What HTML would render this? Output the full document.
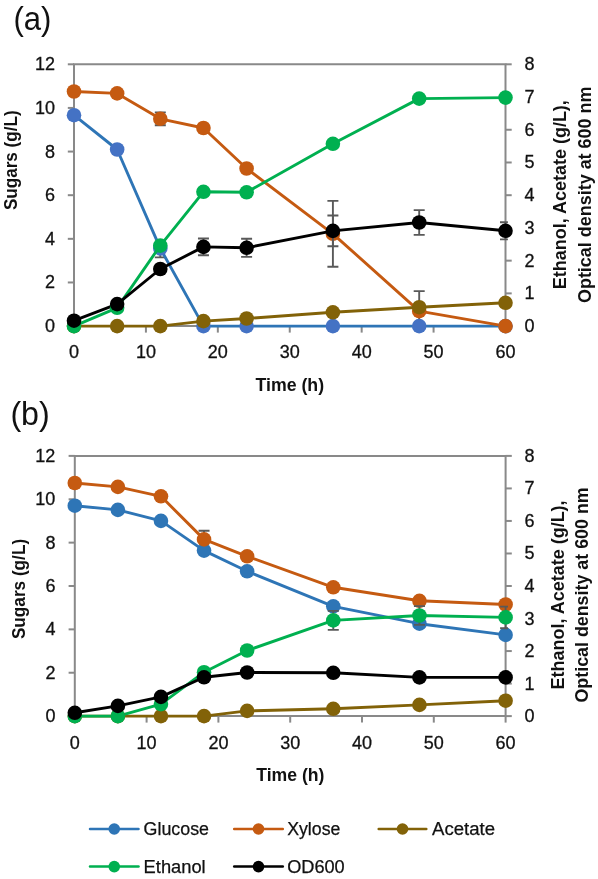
<!DOCTYPE html>
<html><head><meta charset="utf-8"><style>
html,body{margin:0;padding:0;background:#fff;width:598px;height:879px;overflow:hidden;font-family:"Liberation Sans",sans-serif;}
svg{display:block;will-change:transform;}
</style></head><body>
<svg width="598" height="879" viewBox="0 0 598 879">
<rect width="598" height="879" fill="#fff"/>
<g stroke="#898989" stroke-width="2" fill="none">
<path d="M74 326.1V64.3H505.5V326.1H74"/>
<path d="M67.8 326.1H74"/>
<path d="M67.8 282.47H74"/>
<path d="M67.8 238.83H74"/>
<path d="M67.8 195.2H74"/>
<path d="M67.8 151.57H74"/>
<path d="M67.8 107.93H74"/>
<path d="M67.8 64.3H74"/>
<path d="M505.5 326.1H511.7"/>
<path d="M505.5 293.38H511.7"/>
<path d="M505.5 260.65H511.7"/>
<path d="M505.5 227.93H511.7"/>
<path d="M505.5 195.2H511.7"/>
<path d="M505.5 162.48H511.7"/>
<path d="M505.5 129.75H511.7"/>
<path d="M505.5 97.03H511.7"/>
<path d="M505.5 64.3H511.7"/>
<path d="M74 326.1V332.6"/>
<path d="M145.92 326.1V332.6"/>
<path d="M217.83 326.1V332.6"/>
<path d="M289.75 326.1V332.6"/>
<path d="M361.67 326.1V332.6"/>
<path d="M433.58 326.1V332.6"/>
<path d="M505.5 326.1V332.6"/>
</g>
<g font-family='"Liberation Sans", sans-serif' font-size="18" fill="#111111" stroke="#111111" stroke-width="0.3">
<text x="55.1" y="332.1" text-anchor="end">0</text>
<text x="55.1" y="288.47" text-anchor="end">2</text>
<text x="55.1" y="244.83" text-anchor="end">4</text>
<text x="55.1" y="201.2" text-anchor="end">6</text>
<text x="55.1" y="157.57" text-anchor="end">8</text>
<text x="55.1" y="113.93" text-anchor="end">10</text>
<text x="55.1" y="70.3" text-anchor="end">12</text>
<text x="524.6" y="332.1">0</text>
<text x="524.6" y="299.38">1</text>
<text x="524.6" y="266.65">2</text>
<text x="524.6" y="233.93">3</text>
<text x="524.6" y="201.2">4</text>
<text x="524.6" y="168.48">5</text>
<text x="524.6" y="135.75">6</text>
<text x="524.6" y="103.03">7</text>
<text x="524.6" y="70.3">8</text>
<text x="74" y="358.2" text-anchor="middle">0</text>
<text x="145.92" y="358.2" text-anchor="middle">10</text>
<text x="217.83" y="358.2" text-anchor="middle">20</text>
<text x="289.75" y="358.2" text-anchor="middle">30</text>
<text x="361.67" y="358.2" text-anchor="middle">40</text>
<text x="433.58" y="358.2" text-anchor="middle">50</text>
<text x="505.5" y="358.2" text-anchor="middle">60</text>
</g>
<text x="289.8" y="391" text-anchor="middle" font-family='"Liberation Sans", sans-serif' font-weight="bold" font-size="17.5" fill="#111111" textLength="68.7" lengthAdjust="spacingAndGlyphs">Time (h)</text>
<text transform="translate(16.5 160.25) rotate(-90)" text-anchor="middle" font-family='"Liberation Sans", sans-serif' font-weight="bold" font-size="17.5" fill="#111111" textLength="99.7" lengthAdjust="spacingAndGlyphs">Sugars (g/L)</text>
<text transform="translate(566.4 194.65) rotate(-90)" text-anchor="middle" font-family='"Liberation Sans", sans-serif' font-weight="bold" font-size="17.5" fill="#111111" textLength="189" lengthAdjust="spacingAndGlyphs">Ethanol, Acetate (g/L),</text>
<text transform="translate(591.2 194.8) rotate(-90)" text-anchor="middle" font-family='"Liberation Sans", sans-serif' font-weight="bold" font-size="17.5" fill="#111111" textLength="216.5" lengthAdjust="spacingAndGlyphs">Optical density at 600 nm</text>
<text x="13.4" y="30.1" font-family='"Liberation Sans", sans-serif' font-size="32.5" fill="#111111" textLength="38" lengthAdjust="spacingAndGlyphs">(a)</text>
<clipPath id="clipa"><rect x="71.6" y="64.3" width="436.3" height="261.8"/></clipPath>
<path clip-path="url(#clipa)" d="M160.3 248.4V257.4M154.8 257.4H165.8" stroke="#595959" stroke-width="1.9" fill="none"/>
<path clip-path="url(#clipa)" d="M160.3 112.4V125.2M154.8 112.4H165.8M154.8 125.2H165.8" stroke="#595959" stroke-width="1.9" fill="none"/>
<path clip-path="url(#clipa)" d="M332.9 200.9V266.7M327.4 200.9H338.4M327.4 266.7H338.4" stroke="#595959" stroke-width="1.9" fill="none"/>
<path clip-path="url(#clipa)" d="M419.2 291.1V331.1M413.7 291.1H424.7M413.7 331.1H424.7" stroke="#595959" stroke-width="1.9" fill="none"/>
<polyline points="74,115.2 117.15,149.5 160.3,248.4 203.45,326.1 246.6,326.1 332.9,326.1 419.2,326.1 505.5,326.1" fill="none" stroke="#2E75B6" stroke-width="2.9" stroke-linejoin="round" stroke-linecap="round"/>
<polyline points="74,91.5 117.15,93.4 160.3,118.8 203.45,128 246.6,168.5 332.9,233.8 419.2,311.1 505.5,326.1" fill="none" stroke="#C55A11" stroke-width="2.9" stroke-linejoin="round" stroke-linecap="round"/>
<circle cx="74" cy="115.2" r="7.3" fill="#4472C4"/>
<circle cx="117.15" cy="149.5" r="7.3" fill="#4472C4"/>
<circle cx="160.3" cy="248.4" r="7.3" fill="#4472C4"/>
<circle cx="203.45" cy="326.1" r="7.3" fill="#4472C4"/>
<circle cx="246.6" cy="326.1" r="7.3" fill="#4472C4"/>
<circle cx="332.9" cy="326.1" r="7.3" fill="#4472C4"/>
<circle cx="419.2" cy="326.1" r="7.3" fill="#4472C4"/>
<circle cx="505.5" cy="326.1" r="7.3" fill="#4472C4"/>
<circle cx="74" cy="91.5" r="7.3" fill="#C55A11"/>
<circle cx="117.15" cy="93.4" r="7.3" fill="#C55A11"/>
<circle cx="160.3" cy="118.8" r="7.3" fill="#C55A11"/>
<circle cx="203.45" cy="128" r="7.3" fill="#C55A11"/>
<circle cx="246.6" cy="168.5" r="7.3" fill="#C55A11"/>
<circle cx="332.9" cy="233.8" r="7.3" fill="#C55A11"/>
<circle cx="419.2" cy="311.1" r="7.3" fill="#C55A11"/>
<circle cx="505.5" cy="326.1" r="7.3" fill="#C55A11"/>
<path clip-path="url(#clipa)" d="M203.45 238.5V255.3M197.95 238.5H208.95M197.95 255.3H208.95" stroke="#595959" stroke-width="1.9" fill="none"/>
<path clip-path="url(#clipa)" d="M246.6 238.7V256.9M241.1 238.7H252.1M241.1 256.9H252.1" stroke="#595959" stroke-width="1.9" fill="none"/>
<path clip-path="url(#clipa)" d="M332.9 215.55V246.25M327.4 215.55H338.4M327.4 246.25H338.4" stroke="#595959" stroke-width="1.9" fill="none"/>
<path clip-path="url(#clipa)" d="M419.2 210.1V234.9M413.7 210.1H424.7M413.7 234.9H424.7" stroke="#595959" stroke-width="1.9" fill="none"/>
<path clip-path="url(#clipa)" d="M505.5 222.2V239.4M500 222.2H511M500 239.4H511" stroke="#595959" stroke-width="1.9" fill="none"/>
<polyline points="74,326.1 117.15,326.1 160.3,326.1 203.45,321.1 246.6,318.5 332.9,312.3 419.2,307.2 505.5,302.8" fill="none" stroke="#826208" stroke-width="2.9" stroke-linejoin="round" stroke-linecap="round"/>
<polyline points="74,326.1 117.15,307.8 160.3,245.6 203.45,191.8 246.6,192.3 332.9,143.8 419.2,98.6 505.5,97.6" fill="none" stroke="#00B050" stroke-width="2.9" stroke-linejoin="round" stroke-linecap="round"/>
<polyline points="74,320.7 117.15,304.1 160.3,269 203.45,246.9 246.6,247.8 332.9,230.9 419.2,222.5 505.5,230.8" fill="none" stroke="#000000" stroke-width="2.9" stroke-linejoin="round" stroke-linecap="round"/>
<circle cx="74" cy="326.1" r="7.3" fill="#826208"/>
<circle cx="117.15" cy="326.1" r="7.3" fill="#826208"/>
<circle cx="160.3" cy="326.1" r="7.3" fill="#826208"/>
<circle cx="203.45" cy="321.1" r="7.3" fill="#826208"/>
<circle cx="246.6" cy="318.5" r="7.3" fill="#826208"/>
<circle cx="332.9" cy="312.3" r="7.3" fill="#826208"/>
<circle cx="419.2" cy="307.2" r="7.3" fill="#826208"/>
<circle cx="505.5" cy="302.8" r="7.3" fill="#826208"/>
<circle cx="74" cy="326.1" r="7.3" fill="#00B050"/>
<circle cx="117.15" cy="307.8" r="7.3" fill="#00B050"/>
<circle cx="160.3" cy="245.6" r="7.3" fill="#00B050"/>
<circle cx="203.45" cy="191.8" r="7.3" fill="#00B050"/>
<circle cx="246.6" cy="192.3" r="7.3" fill="#00B050"/>
<circle cx="332.9" cy="143.8" r="7.3" fill="#00B050"/>
<circle cx="419.2" cy="98.6" r="7.3" fill="#00B050"/>
<circle cx="505.5" cy="97.6" r="7.3" fill="#00B050"/>
<circle cx="74" cy="320.7" r="7.3" fill="#000000"/>
<circle cx="117.15" cy="304.1" r="7.3" fill="#000000"/>
<circle cx="160.3" cy="269" r="7.3" fill="#000000"/>
<circle cx="203.45" cy="246.9" r="7.3" fill="#000000"/>
<circle cx="246.6" cy="247.8" r="7.3" fill="#000000"/>
<circle cx="332.9" cy="230.9" r="7.3" fill="#000000"/>
<circle cx="419.2" cy="222.5" r="7.3" fill="#000000"/>
<circle cx="505.5" cy="230.8" r="7.3" fill="#000000"/>
<g stroke="#898989" stroke-width="2" fill="none">
<path d="M74.8 716.1V455.9H505.6V716.1H74.8"/>
<path d="M68.6 716.1H74.8"/>
<path d="M68.6 672.73H74.8"/>
<path d="M68.6 629.37H74.8"/>
<path d="M68.6 586H74.8"/>
<path d="M68.6 542.63H74.8"/>
<path d="M68.6 499.27H74.8"/>
<path d="M68.6 455.9H74.8"/>
<path d="M505.6 716.1H511.8"/>
<path d="M505.6 683.58H511.8"/>
<path d="M505.6 651.05H511.8"/>
<path d="M505.6 618.52H511.8"/>
<path d="M505.6 586H511.8"/>
<path d="M505.6 553.48H511.8"/>
<path d="M505.6 520.95H511.8"/>
<path d="M505.6 488.42H511.8"/>
<path d="M505.6 455.9H511.8"/>
<path d="M74.8 716.1V722.6"/>
<path d="M146.6 716.1V722.6"/>
<path d="M218.4 716.1V722.6"/>
<path d="M290.2 716.1V722.6"/>
<path d="M362 716.1V722.6"/>
<path d="M433.8 716.1V722.6"/>
<path d="M505.6 716.1V722.6"/>
</g>
<g font-family='"Liberation Sans", sans-serif' font-size="18" fill="#111111" stroke="#111111" stroke-width="0.3">
<text x="55.4" y="722.1" text-anchor="end">0</text>
<text x="55.4" y="678.73" text-anchor="end">2</text>
<text x="55.4" y="635.37" text-anchor="end">4</text>
<text x="55.4" y="592" text-anchor="end">6</text>
<text x="55.4" y="548.63" text-anchor="end">8</text>
<text x="55.4" y="505.27" text-anchor="end">10</text>
<text x="55.4" y="461.9" text-anchor="end">12</text>
<text x="524.6" y="722.1">0</text>
<text x="524.6" y="689.58">1</text>
<text x="524.6" y="657.05">2</text>
<text x="524.6" y="624.52">3</text>
<text x="524.6" y="592">4</text>
<text x="524.6" y="559.48">5</text>
<text x="524.6" y="526.95">6</text>
<text x="524.6" y="494.42">7</text>
<text x="524.6" y="461.9">8</text>
<text x="74.8" y="748.7" text-anchor="middle">0</text>
<text x="146.6" y="748.7" text-anchor="middle">10</text>
<text x="218.4" y="748.7" text-anchor="middle">20</text>
<text x="290.2" y="748.7" text-anchor="middle">30</text>
<text x="362" y="748.7" text-anchor="middle">40</text>
<text x="433.8" y="748.7" text-anchor="middle">50</text>
<text x="505.6" y="748.7" text-anchor="middle">60</text>
</g>
<text x="290.3" y="780.8" text-anchor="middle" font-family='"Liberation Sans", sans-serif' font-weight="bold" font-size="17.5" fill="#111111" textLength="68.2" lengthAdjust="spacingAndGlyphs">Time (h)</text>
<text transform="translate(25 589) rotate(-90)" text-anchor="middle" font-family='"Liberation Sans", sans-serif' font-weight="bold" font-size="17.5" fill="#111111" textLength="100.2" lengthAdjust="spacingAndGlyphs">Sugars (g/L)</text>
<text transform="translate(563.8 594.9) rotate(-90)" text-anchor="middle" font-family='"Liberation Sans", sans-serif' font-weight="bold" font-size="17.5" fill="#111111" textLength="189" lengthAdjust="spacingAndGlyphs">Ethanol, Acetate (g/L),</text>
<text transform="translate(588.4 594.95) rotate(-90)" text-anchor="middle" font-family='"Liberation Sans", sans-serif' font-weight="bold" font-size="17.5" fill="#111111" textLength="215.2" lengthAdjust="spacingAndGlyphs">Optical density at 600 nm</text>
<text x="10.4" y="424.8" font-family='"Liberation Sans", sans-serif' font-size="32.5" fill="#111111" textLength="39.4" lengthAdjust="spacingAndGlyphs">(b)</text>
<clipPath id="clipb"><rect x="72.4" y="455.9" width="435.6" height="260.2"/></clipPath>
<path clip-path="url(#clipb)" d="M204.04 530.8V548M198.54 530.8H209.54M198.54 548H209.54" stroke="#595959" stroke-width="1.9" fill="none"/>
<polyline points="74.8,505.7 117.88,509.9 160.96,520.9 204.04,550.6 247.12,571.3 333.28,606.3 419.44,623.7 505.6,634.9" fill="none" stroke="#2E75B6" stroke-width="2.9" stroke-linejoin="round" stroke-linecap="round"/>
<polyline points="74.8,483 117.88,486.9 160.96,496.3 204.04,539.4 247.12,556.3 333.28,587.3 419.44,600.8 505.6,604.5" fill="none" stroke="#C55A11" stroke-width="2.9" stroke-linejoin="round" stroke-linecap="round"/>
<circle cx="74.8" cy="505.7" r="7.3" fill="#2E75B6"/>
<circle cx="117.88" cy="509.9" r="7.3" fill="#2E75B6"/>
<circle cx="160.96" cy="520.9" r="7.3" fill="#2E75B6"/>
<circle cx="204.04" cy="550.6" r="7.3" fill="#2E75B6"/>
<circle cx="247.12" cy="571.3" r="7.3" fill="#2E75B6"/>
<circle cx="333.28" cy="606.3" r="7.3" fill="#2E75B6"/>
<circle cx="419.44" cy="623.7" r="7.3" fill="#2E75B6"/>
<circle cx="505.6" cy="634.9" r="7.3" fill="#2E75B6"/>
<circle cx="74.8" cy="483" r="7.3" fill="#C55A11"/>
<circle cx="117.88" cy="486.9" r="7.3" fill="#C55A11"/>
<circle cx="160.96" cy="496.3" r="7.3" fill="#C55A11"/>
<circle cx="204.04" cy="539.4" r="7.3" fill="#C55A11"/>
<circle cx="247.12" cy="556.3" r="7.3" fill="#C55A11"/>
<circle cx="333.28" cy="587.3" r="7.3" fill="#C55A11"/>
<circle cx="419.44" cy="600.8" r="7.3" fill="#C55A11"/>
<circle cx="505.6" cy="604.5" r="7.3" fill="#C55A11"/>
<path clip-path="url(#clipb)" d="M333.28 610.9V629.9M327.78 610.9H338.78M327.78 629.9H338.78" stroke="#595959" stroke-width="1.9" fill="none"/>
<path clip-path="url(#clipb)" d="M419.44 606.1V624.9M413.94 606.1H424.94M413.94 624.9H424.94" stroke="#595959" stroke-width="1.9" fill="none"/>
<path clip-path="url(#clipb)" d="M505.6 606.6V628.2M500.1 606.6H511.1M500.1 628.2H511.1" stroke="#595959" stroke-width="1.9" fill="none"/>
<polyline points="74.8,716.1 117.88,716.1 160.96,716.1 204.04,716.1 247.12,710.9 333.28,708.8 419.44,704.9 505.6,700.7" fill="none" stroke="#826208" stroke-width="2.9" stroke-linejoin="round" stroke-linecap="round"/>
<polyline points="74.8,716.1 117.88,716.1 160.96,704.1 204.04,672.2 247.12,650.5 333.28,620.4 419.44,615.5 505.6,617.4" fill="none" stroke="#00B050" stroke-width="2.9" stroke-linejoin="round" stroke-linecap="round"/>
<polyline points="74.8,712.8 117.88,705.9 160.96,696.9 204.04,677.3 247.12,672.5 333.28,672.8 419.44,677.4 505.6,677.4" fill="none" stroke="#000000" stroke-width="2.9" stroke-linejoin="round" stroke-linecap="round"/>
<circle cx="74.8" cy="716.1" r="7.3" fill="#826208"/>
<circle cx="117.88" cy="716.1" r="7.3" fill="#826208"/>
<circle cx="160.96" cy="716.1" r="7.3" fill="#826208"/>
<circle cx="204.04" cy="716.1" r="7.3" fill="#826208"/>
<circle cx="247.12" cy="710.9" r="7.3" fill="#826208"/>
<circle cx="333.28" cy="708.8" r="7.3" fill="#826208"/>
<circle cx="419.44" cy="704.9" r="7.3" fill="#826208"/>
<circle cx="505.6" cy="700.7" r="7.3" fill="#826208"/>
<circle cx="74.8" cy="716.1" r="7.3" fill="#00B050"/>
<circle cx="117.88" cy="716.1" r="7.3" fill="#00B050"/>
<circle cx="160.96" cy="704.1" r="7.3" fill="#00B050"/>
<circle cx="204.04" cy="672.2" r="7.3" fill="#00B050"/>
<circle cx="247.12" cy="650.5" r="7.3" fill="#00B050"/>
<circle cx="333.28" cy="620.4" r="7.3" fill="#00B050"/>
<circle cx="419.44" cy="615.5" r="7.3" fill="#00B050"/>
<circle cx="505.6" cy="617.4" r="7.3" fill="#00B050"/>
<circle cx="74.8" cy="712.8" r="7.3" fill="#000000"/>
<circle cx="117.88" cy="705.9" r="7.3" fill="#000000"/>
<circle cx="160.96" cy="696.9" r="7.3" fill="#000000"/>
<circle cx="204.04" cy="677.3" r="7.3" fill="#000000"/>
<circle cx="247.12" cy="672.5" r="7.3" fill="#000000"/>
<circle cx="333.28" cy="672.8" r="7.3" fill="#000000"/>
<circle cx="419.44" cy="677.4" r="7.3" fill="#000000"/>
<circle cx="505.6" cy="677.4" r="7.3" fill="#000000"/>
<path d="M90 829H138.5" stroke="#2E75B6" stroke-width="2.5" stroke-linecap="round"/>
<circle cx="114.25" cy="829" r="5.8" fill="#2E75B6"/>
<text x="143.6" y="835.1" font-family='"Liberation Sans", sans-serif' font-size="17.5" fill="#111111" stroke="#111111" stroke-width="0.25" textLength="65.4" lengthAdjust="spacingAndGlyphs">Glucose</text>
<path d="M234.2 829H282.8" stroke="#C55A11" stroke-width="2.5" stroke-linecap="round"/>
<circle cx="258.5" cy="829" r="5.8" fill="#C55A11"/>
<text x="287.2" y="835.1" font-family='"Liberation Sans", sans-serif' font-size="17.5" fill="#111111" stroke="#111111" stroke-width="0.25" textLength="53.2" lengthAdjust="spacingAndGlyphs">Xylose</text>
<path d="M378.7 829H426.3" stroke="#826208" stroke-width="2.5" stroke-linecap="round"/>
<circle cx="402.5" cy="829" r="5.8" fill="#826208"/>
<text x="432" y="835.1" font-family='"Liberation Sans", sans-serif' font-size="17.5" fill="#111111" stroke="#111111" stroke-width="0.25" textLength="63" lengthAdjust="spacingAndGlyphs">Acetate</text>
<path d="M90 866.6H138.5" stroke="#00B050" stroke-width="2.5" stroke-linecap="round"/>
<circle cx="114.25" cy="866.6" r="5.8" fill="#00B050"/>
<text x="143.6" y="872.7" font-family='"Liberation Sans", sans-serif' font-size="17.5" fill="#111111" stroke="#111111" stroke-width="0.25" textLength="62.1" lengthAdjust="spacingAndGlyphs">Ethanol</text>
<path d="M234.2 866.6H282.8" stroke="#000000" stroke-width="2.5" stroke-linecap="round"/>
<circle cx="258.5" cy="866.6" r="5.8" fill="#000000"/>
<text x="287.2" y="872.7" font-family='"Liberation Sans", sans-serif' font-size="17.5" fill="#111111" stroke="#111111" stroke-width="0.25" textLength="57.5" lengthAdjust="spacingAndGlyphs">OD600</text>
</svg>
</body></html>
